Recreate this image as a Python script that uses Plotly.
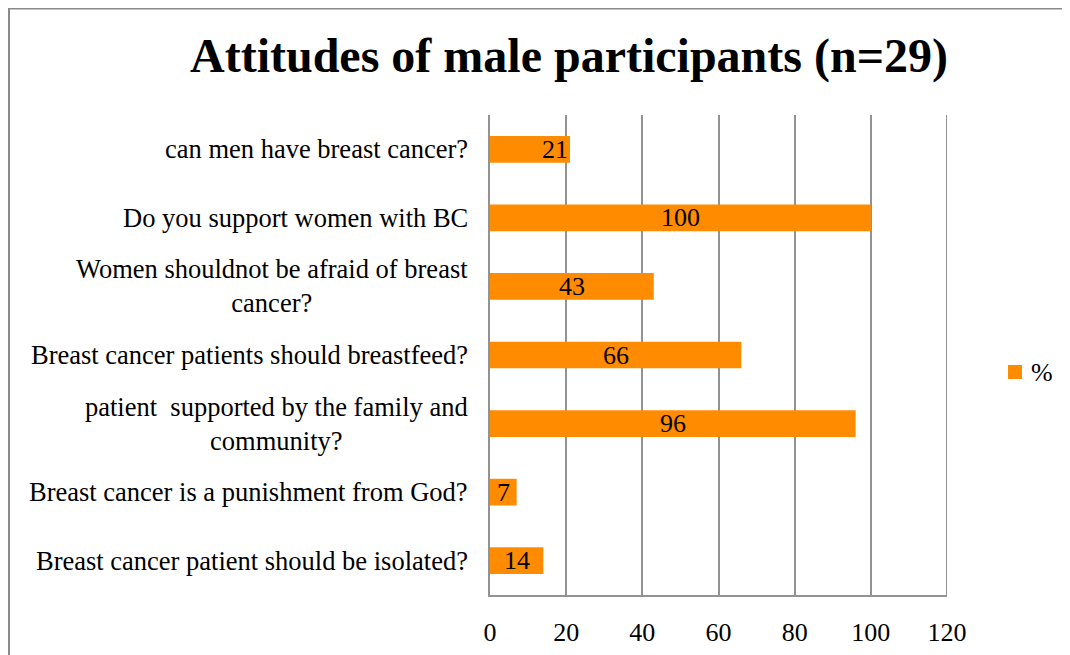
import plotly.graph_objects as go

questions = [
    "can men have breast cancer?",
    "Do you support women with BC",
    "Women shouldnot be afraid of breast<br>cancer?",
    "Breast cancer patients should breastfeed?",
    "patient  supported by the family and<br>community?",
    "Breast cancer is a punishment from God?",
    "Breast cancer patient should be isolated?",
]
percent = [21, 100, 43, 66, 96, 7, 14]
x_ticks = [0, 20, 40, 60, 80, 100, 120]

SERIF = "Liberation Serif"
ORANGE = "#FF8C00"
GRID = "#929292"

# the page body adds an 8px margin, so the figure is 8px smaller each way
W, H = 1062, 647
L, R, T, B = 482, 123, 107, 60
pw, ph = W - L - R, H - T - B


def px(x):
    return (x - L) / pw


def py(y):
    return (T + ph - y) / ph


fig = go.Figure()
fig.add_bar(
    y=questions,
    x=percent,
    orientation="h",
    name="%",
    marker=dict(color=ORANGE, line=dict(width=0)),
    hoverinfo="x+y",
    showlegend=False,
)

# category labels (centered multi-line text, like the original)
for q in questions:
    fig.add_annotation(
        x=px(L - 20), xref="paper", y=q, yref="y",
        text=q, showarrow=False, xanchor="right", align="center",
        font=dict(family=SERIF, size=26.5, color="black"),
    )

# data labels
for i, (q, v) in enumerate(zip(questions, percent)):
    fig.add_annotation(
        x=v if i == 0 else v / 2, y=q, text=str(v), showarrow=False,
        xanchor="right" if i == 0 else "center",
        font=dict(family=SERIF, size=26, color="black"),
    )

# legend key drawn by hand so it does not push the right margin
fig.add_shape(type="rect", xref="paper", yref="paper",
              x0=px(1000), x1=px(1014), y0=py(371), y1=py(357),
              fillcolor=ORANGE, line=dict(width=0))
fig.add_annotation(x=px(1021), y=py(364), xref="paper", yref="paper",
                   text="%", showarrow=False, xanchor="left", yanchor="middle",
                   font=dict(family=SERIF, size=26, color="black"))

# outer chart border
fig.add_shape(
    type="rect", xref="paper", yref="paper",
    x0=px(1), x1=px(W + 10), y0=py(H + 10), y1=py(0.5),
    line=dict(color="#8a8a8a", width=2), layer="below",
)

fig.update_layout(
    width=W, height=H,
    margin=dict(l=L, r=R, t=T, b=B, autoexpand=False),
    paper_bgcolor="white", plot_bgcolor="white",
    font=dict(family=SERIF, size=26, color="black"),
    title=dict(
        text="<b>Attitudes of male participants (n=29)</b>",
        font=dict(family=SERIF, size=48, color="black"),
        x=561 / W, xanchor="center", y=1 - 47 / H, yanchor="middle",
    ),
    bargap=0.61,
    showlegend=False,
)
fig.update_xaxes(
    range=[0, 120], tickvals=x_ticks, showgrid=True, gridcolor=GRID, gridwidth=2,
    showline=True, linecolor=GRID, linewidth=2, mirror=False, zeroline=False,
    ticks="", ticklabelstandoff=13, tickfont=dict(family=SERIF, size=26),
    fixedrange=True,
)
fig.update_yaxes(
    autorange="reversed", showticklabels=False, showgrid=False,
    showline=True, linecolor=GRID, linewidth=2, ticks="", fixedrange=True,
)
fig.add_shape(type="line", xref="x", yref="paper", x0=120, x1=120, y0=0, y1=1,
              line=dict(color=GRID, width=2))

fig.write_html("out.html")
